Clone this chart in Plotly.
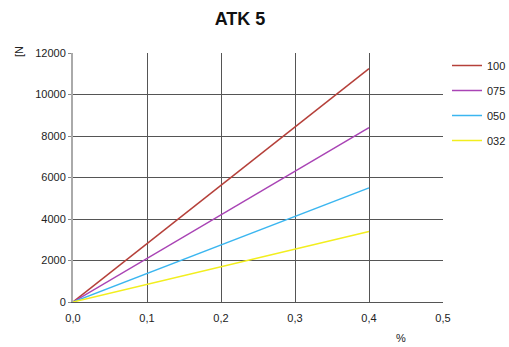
import plotly.graph_objects as go

series_names = ["100", "075", "050", "032"]
x_values = [0.0, 0.4]
end_values = [11250, 8400, 5500, 3400]
colors = ["#b5403a", "#a944b5", "#3bb6f0", "#f2ee1e"]

x_ticks = [0, 0.1, 0.2, 0.3, 0.4, 0.5]
x_tick_labels = ["0,0", "0,1", "0,2", "0,3", "0,4", "0,5"]
y_ticks = [0, 2000, 4000, 6000, 8000, 10000, 12000]
y_tick_labels = ["0", "2000", "4000", "6000", "8000", "10000", "12000"]

fig = go.Figure()
for name, end, col in zip(series_names, end_values, colors):
    fig.add_trace(go.Scatter(
        x=x_values, y=[0, end], mode="lines", name=name, legendgroup=name,
        line=dict(color=col, width=1.5),
    ))

font_family = "Liberation Sans, Arial, sans-serif"
L, R, T, B = 73, 66, 53, 45
pw, ph = 509 - L - R, 347 - T - B
fig.update_layout(
    width=509, height=347,
    margin=dict(l=L, r=R, t=T, b=B, autoexpand=False),
    paper_bgcolor="white", plot_bgcolor="white",
    font=dict(family=font_family, size=11, color="#222"),
    title=dict(text="<b>ATK 5</b>", x=240 / 509, xref="container", xanchor="center",
               y=1 - 19 / 347, yref="container", yanchor="middle",
               font=dict(size=18, color="#111", family=font_family)),
    showlegend=True,
    legend=dict(x=(447 - L) / pw, y=(302 - 51) / ph, xanchor="left", yanchor="top",
                font=dict(size=11, color="#222"), tracegroupgap=6,
                itemwidth=30, bgcolor="rgba(0,0,0,0)"),
    xaxis=dict(range=[0, 0.5], tickvals=x_ticks, ticktext=x_tick_labels,
               showgrid=True, gridcolor="#555", gridwidth=1,
               showline=True, linecolor="#555", linewidth=1,
               ticks="", ticklabelstandoff=6, zeroline=False, tickfont=dict(size=11)),
    yaxis=dict(range=[0, 12000], tickvals=y_ticks, ticktext=y_tick_labels,
               showgrid=True, gridcolor="#555", gridwidth=1,
               showline=True, linecolor="#aaa", linewidth=2,
               ticks="outside", ticklen=3, tickcolor="#888",
               zeroline=False, tickfont=dict(size=11)),
    annotations=[
        dict(text="[N", x=(19 - L) / pw, y=(302 - 52) / ph, xref="paper", yref="paper",
             xanchor="center", yanchor="middle",
             showarrow=False, textangle=-90, font=dict(size=11, color="#222")),
        dict(text="%", x=(401 - L) / pw, y=-(338 - 302) / ph, xref="paper", yref="paper",
             xanchor="center", yanchor="middle",
             showarrow=False, font=dict(size=11, color="#222")),
    ],
)

fig.write_html("out.html", config={"displayModeBar": False},
               post_script="document.body.style.margin='0';")
